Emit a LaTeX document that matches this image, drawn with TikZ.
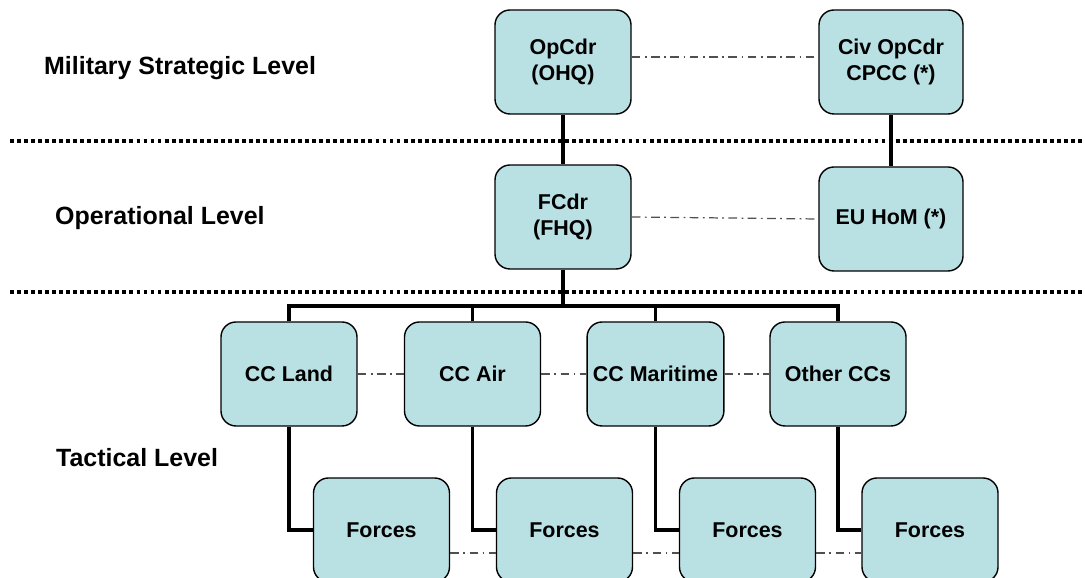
\documentclass[tikz,border=0pt]{standalone}
\usepackage{fontspec}
\setmainfont{Liberation Sans}
\begin{document}
\begin{tikzpicture}[
    cmdbox/.style={shape=rectangle,draw,line width=0.8pt,fill=cmd_bg,rounded corners=0.3cm,minimum width=2.72cm,minimum height=2.08cm,align=center,font=\fontsize{12.2}{14.5}\selectfont\bfseries},
    levellabel/.style={anchor=west,font=\fontsize{14.2}{17}\selectfont\bfseries},
    cmdline/.style={line width=2.2pt,line join=miter},
    coordline/.style={line width=0.7pt,draw=coord_gray,dash pattern=on 5pt off 2.5pt on 1pt off 2.5pt},
    levelsep/.style={line width=2pt,dash pattern=on 2.2pt off 1.8pt}]
    \definecolor{cmd_bg}{RGB}{185,224,227}
    \definecolor{coord_gray}{RGB}{80,80,80}
    \useasboundingbox (0,0) rectangle (21.7,11.56);
    \clip (0,0) rectangle (21.7,11.56);
    \draw[levelsep] (0.2,8.74) -- (21.7,8.74);
    \draw[levelsep] (0.2,5.72) -- (21.7,5.72);
    \node[levellabel] (lvl_strat) at (0.76,10.2)  {Military Strategic Level};
    \node[levellabel] (lvl_oper)  at (0.98,7.2)   {Operational Level};
    \node[levellabel] (lvl_tact)  at (1.0,2.4)    {Tactical Level};
    \node[cmdbox]                      (opcdr)   at (11.26,10.32) {OpCdr\\(OHQ)};
    \node[cmdbox,minimum width=2.88cm] (civcdr)  at (17.82,10.32) {Civ OpCdr\\CPCC (*)};
    \node[cmdbox]                      (fcdr)    at (11.26,7.22)  {FCdr\\(FHQ)};
    \node[cmdbox,minimum width=2.88cm] (euhom)   at (17.82,7.18)  {EU HoM (*)};
    \node[cmdbox] (cc_land)  at (5.78,4.08)  {CC Land};
    \node[cmdbox] (cc_air)   at (9.45,4.08)  {CC Air};
    \node[cmdbox] (cc_mar)   at (13.11,4.08) {CC Maritime};
    \node[cmdbox] (cc_other) at (16.76,4.08) {Other CCs};
    \node[cmdbox] (frc_land)  at (7.63,0.96)  {Forces};
    \node[cmdbox] (frc_air)   at (11.29,0.96) {Forces};
    \node[cmdbox] (frc_mar)   at (14.95,0.96) {Forces};
    \node[cmdbox] (frc_other) at (18.6,0.96)  {Forces};
    \coordinate (bus) at (11.26,5.44);
    \draw[cmdline] (opcdr) -- (fcdr);
    \draw[cmdline] (civcdr) -- (euhom);
    \draw[cmdline] (fcdr) -- (bus);
    \draw[cmdline] (cc_land.north) |- (bus);
    \draw[cmdline] (cc_air.north) |- (bus);
    \draw[cmdline] (cc_mar.north) |- (bus);
    \draw[cmdline] (cc_other.north) |- (bus);
    \draw[cmdline] (cc_land.south) |- (frc_land.west);
    \draw[cmdline] (cc_air.south) |- (frc_air.west);
    \draw[cmdline] (cc_mar.south) |- (frc_mar.west);
    \draw[cmdline] (cc_other.south) |- (frc_other.west);
    \draw[coordline] ([yshift=0.1cm]opcdr.east) -- ([yshift=0.1cm]civcdr.west);
    \draw[coordline] (fcdr.east) -- (euhom.west);
    \draw[coordline] (cc_land.east) -- (cc_air.west);
    \draw[coordline] (cc_air.east) -- (cc_mar.west);
    \draw[coordline] (cc_mar.east) -- (cc_other.west);
    \draw[coordline] ([yshift=-0.46cm]frc_land.east) -- ([yshift=-0.46cm]frc_air.west);
    \draw[coordline] ([yshift=-0.46cm]frc_air.east) -- ([yshift=-0.46cm]frc_mar.west);
    \draw[coordline] ([yshift=-0.46cm]frc_mar.east) -- ([yshift=-0.46cm]frc_other.west);
\end{tikzpicture}
\end{document}
